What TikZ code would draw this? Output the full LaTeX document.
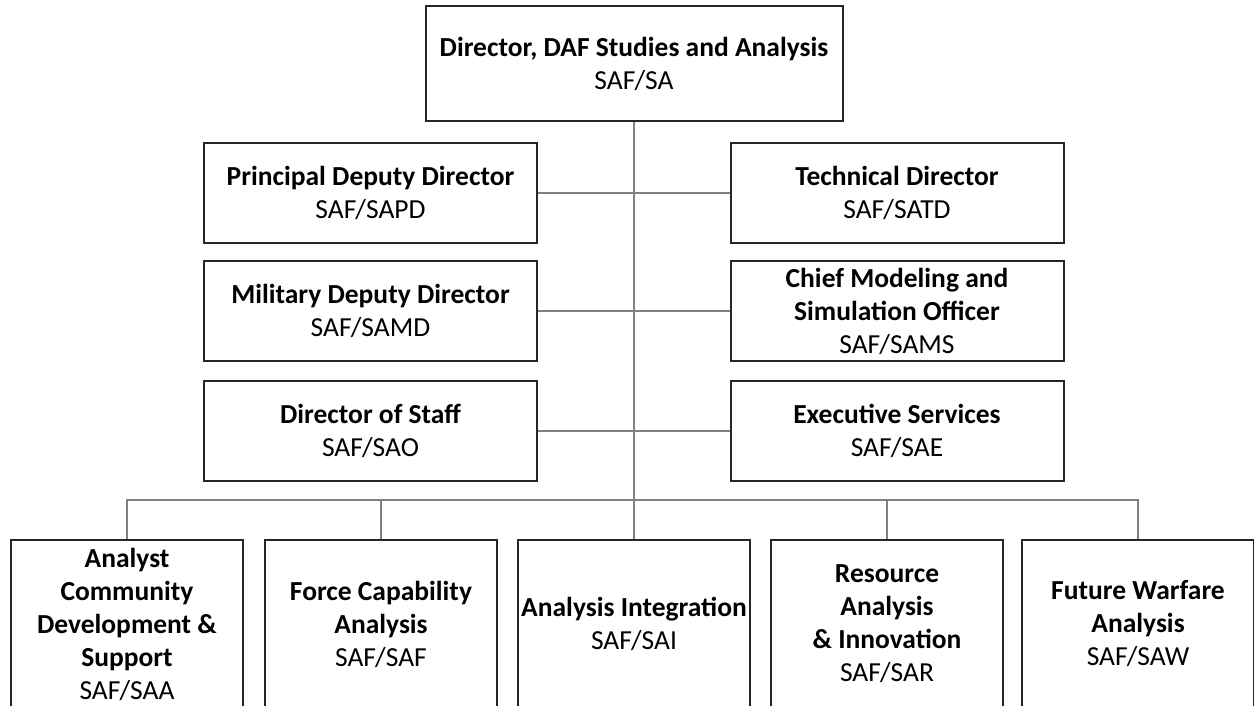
\documentclass[tikz,border=0pt]{standalone}
\usepackage{fontspec}
\setmainfont{Carlito}
\usepackage{tikz}
\usetikzlibrary{positioning}

\begin{document}
\begin{tikzpicture}[x=1pt, y=-1pt, node distance=16pt,
    unit/.style={rectangle, draw=black!85, line width=2pt, fill=white, align=center, inner sep=0pt,
        font=\fontsize{27.5}{33}\selectfont, minimum width=333pt, minimum height=100pt},
    top/.style={unit, minimum width=417pt, minimum height=115pt},
    branch/.style={unit, minimum width=232pt, minimum height=168pt},
    link/.style={draw=black!50, line width=1.3pt}]

    \useasboundingbox (0,0) rectangle (1254,706);

    \node[top] (sa) at (634,63.5) {\textbf{Director, DAF Studies and Analysis}\\SAF/SA};

    % staff offices, left and right of the trunk
    \node[unit] (pd) at (370.5,193) {\textbf{Principal Deputy Director}\\SAF/SAPD};
    \node[unit, below=16pt of pd] (md) {\textbf{Military Deputy Director}\\SAF/SAMD};
    \node[unit, below=18pt of md] (dos) {\textbf{Director of Staff}\\SAF/SAO};

    \node[unit] (td) at (897,193) {\textbf{Technical Director}\\SAF/SATD};
    \node[unit, below=16pt of td] (cms) {\textbf{Chief Modeling and}\\\textbf{Simulation Officer}\\SAF/SAMS};
    \node[unit, below=18pt of cms] (es) {\textbf{Executive Services}\\SAF/SAE};

    % divisions
    \node[branch] (saa) at (127,624) {\textbf{Analyst}\\\textbf{Community}\\\textbf{Development \&}\\\textbf{Support}\\SAF/SAA};
    \node[branch] (saf) at (381,624) {\textbf{Force Capability}\\\textbf{Analysis}\\SAF/SAF};
    \node[branch] (sai) at (634,624) {\textbf{Analysis Integration}\\SAF/SAI};
    \node[branch] (sar) at (887,624) {\textbf{Resource}\\\textbf{Analysis}\\\textbf{\& Innovation}\\SAF/SAR};
    \node[branch] (saw) at (1138,624) {\textbf{Future Warfare}\\\textbf{Analysis}\\SAF/SAW};

    \coordinate (bus) at (634,500);

    % connectors
    \draw[link] (sa) -- (sai);
    \draw[link] (pd) -- (td);
    \draw[link] (md) -- (cms);
    \draw[link] (dos) -- (es);
    \draw[link] (saa.north) |- (bus) -| (saw.north);
    \draw[link] (saf.north) -- (saf.north |- bus);
    \draw[link] (sar.north) -- (sar.north |- bus);
\end{tikzpicture}
\end{document}
